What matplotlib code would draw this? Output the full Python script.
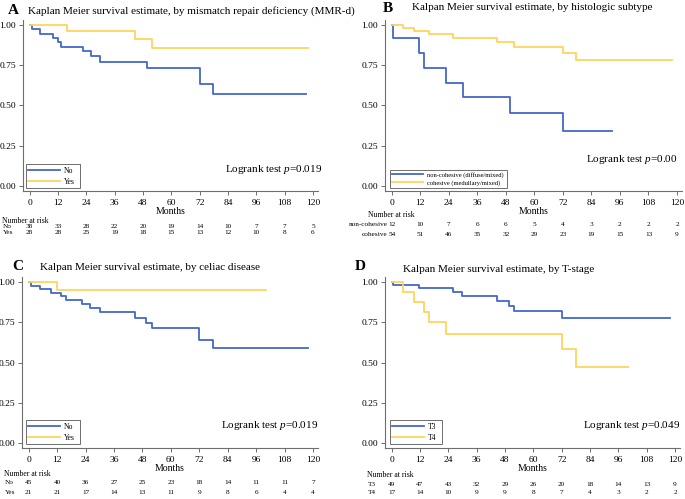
import matplotlib
matplotlib.use('Agg')
import matplotlib.pyplot as plt

plt.rcParams['font.family'] = ['Liberation Serif', 'DejaVu Serif']
plt.rcParams['mathtext.fontset'] = 'custom'
plt.rcParams['mathtext.rm'] = 'Liberation Serif'
plt.rcParams['mathtext.it'] = 'Liberation Serif:italic'

W, H = 685, 499
BLUE = '#4468c8'
GOLD = '#fed45e'
GREY = '#6e6e6e'

months = [0, 12, 24, 36, 48, 60, 72, 84, 96, 108, 120]

# A: mismatch repair deficiency
a_no_t = [0, 0.9, 4.6, 9.9, 12, 13.5, 22.5, 26, 30, 49.7, 72, 77.6, 117]
a_no_s = [1.0, 0.973, 0.947, 0.921, 0.895, 0.866, 0.840, 0.806, 0.770, 0.733, 0.631, 0.573, 0.573]
a_yes_t = [0, 15.9, 44.8, 52, 118]
a_yes_s = [1.0, 0.964, 0.914, 0.858, 0.858]
a_risk_no = [38, 33, 28, 22, 20, 19, 14, 10, 7, 7, 5]
a_risk_yes = [28, 28, 25, 19, 18, 15, 13, 12, 10, 8, 6]

# B: histologic subtype
b_nc_t = [0, 0.7, 11.6, 13.6, 22.7, 29.9, 49.8, 71.9, 92.6]
b_nc_s = [1.0, 0.917, 0.824, 0.732, 0.641, 0.550, 0.455, 0.342, 0.342]
b_c_t = [0, 4.9, 9.4, 15.9, 26, 44.5, 51.5, 71.9, 77.6, 117.9]
b_c_s = [1.0, 0.980, 0.961, 0.941, 0.920, 0.894, 0.865, 0.827, 0.783, 0.783]
b_risk_nc = [12, 10, 7, 6, 6, 5, 4, 3, 2, 2, 2]
b_risk_c = [54, 51, 46, 35, 32, 29, 23, 19, 15, 13, 9]

# C: celiac disease
c_no_t = [0, 0.8, 4.6, 9.6, 13.8, 15.9, 22.5, 26, 30, 44.8, 49.7, 52, 72, 77.6, 118]
c_no_s = [1.0, 0.978, 0.956, 0.933, 0.911, 0.886, 0.862, 0.837, 0.811, 0.778, 0.747, 0.715, 0.637, 0.592, 0.592]
c_yes_t = [0, 12.1, 100]
c_yes_s = [1.0, 0.952, 0.952]
c_risk_no = [45, 40, 36, 27, 25, 23, 18, 14, 11, 11, 7]
c_risk_yes = [21, 21, 17, 14, 13, 11, 9, 8, 6, 4, 4]

# D: T-stage
d_t3_t = [0, 0.7, 11.7, 25.8, 30, 44.8, 49.8, 51.8, 72.3, 117.9]
d_t3_s = [1.0, 0.980, 0.960, 0.940, 0.911, 0.879, 0.848, 0.817, 0.777, 0.777]
d_t4_t = [0, 4.7, 9.5, 13.7, 15.8, 22.9, 72.3, 78, 100.2]
d_t4_s = [1.0, 0.936, 0.874, 0.811, 0.750, 0.676, 0.584, 0.470, 0.470]
d_risk_t3 = [49, 47, 43, 32, 29, 26, 20, 18, 14, 13, 9]
d_risk_t4 = [17, 14, 10, 9, 9, 8, 7, 4, 3, 2, 2]

fig = plt.figure(figsize=(W / 100, H / 100), dpi=100)
RISK_FS = 5.2


def ftext(x, y, s, **kw):
    fig.text(x / W, 1 - y / H, s, **kw)


def panel(box, curves, labels, leg_box, leg_fs, handlelen, p_text, p_xy,
          letter, letter_xy, title, title_xy, risk, risk_names, risk_ys,
          name_x, name_ha, nar_xy):
    x0, y0, x1, y1 = box
    ax = fig.add_axes([x0 / W, 1 - y1 / H, (x1 - x0) / W, (y1 - y0) / H])
    for (t, s), col in zip(curves, [BLUE, GOLD]):
        ax.plot(t, s, drawstyle='steps-post', color=col, lw=1.3)
    ax.set_xlim(-2.8, 122.1)
    ax.set_ylim(-0.031, 1.031)
    ax.set_xticks(months)
    ax.set_yticks([0, 0.25, 0.5, 0.75, 1.0])
    ax.set_yticklabels(['0.00', '0.25', '0.50', '0.75', '1.00'])
    for sp in ['top', 'right']:
        ax.spines[sp].set_visible(False)
    for sp in ['left', 'bottom']:
        ax.spines[sp].set_color(GREY)
        ax.spines[sp].set_linewidth(0.8)
    ax.tick_params(length=3, width=0.7, color=GREY, labelsize=6.8, pad=2)
    ax.tick_params(axis='x', pad=2.5)
    ax.set_xlabel('Months', fontsize=7, labelpad=0.5)

    lx0, ly0, lx1, ly1 = leg_box
    ax.legend(labels, loc='lower left',
              bbox_to_anchor=(lx0 / W, 1 - ly1 / H, (lx1 - lx0) / W, (ly1 - ly0) / H),
              bbox_transform=fig.transFigure, mode='expand', fontsize=leg_fs,
              fancybox=False, edgecolor=GREY, framealpha=1, handlelength=handlelen,
              borderpad=0.3, labelspacing=0.4, handletextpad=0.5, borderaxespad=0)
    ax.get_legend().get_frame().set_linewidth(0.7)

    ftext(p_xy[0], p_xy[1], p_text, fontsize=8, ha='right', va='center')
    ftext(letter_xy[0], letter_xy[1], letter, fontsize=11, fontweight='bold',
          ha='left', va='center')
    ftext(title_xy[0], title_xy[1], title, fontsize=8, ha='left', va='center')

    ftext(nar_xy[0], nar_xy[1], 'Number at risk', fontsize=5.6, ha='left', va='center')
    for vals, name, yy in zip(risk, risk_names, risk_ys):
        ftext(name_x, yy, name, fontsize=RISK_FS, ha=name_ha, va='center')
        yax = (y1 - yy) / (y1 - y0)
        for m, v in zip(months, vals):
            ax.text(m, yax, str(v), fontsize=RISK_FS, ha='center', va='center',
                    transform=ax.get_xaxis_transform())
    return ax


panel((23, 20, 318, 191),
      [(a_no_t, a_no_s), (a_yes_t, a_yes_s)], ['No', 'Yes'],
      (26, 163, 80, 188), 5.5, 4.2,
      'Logrank test $\\it{p}$=0.019', (322, 169),
      'A', (8, 11), 'Kaplan Meier survival estimate, by mismatch repair deficiency (MMR-d)',
      (28, 11),
      [a_risk_no, a_risk_yes], ['No', 'Yes'], [226.5, 233], 3, 'left', (2, 221))

panel((385, 20, 682, 191),
      [(b_nc_t, b_nc_s), (b_c_t, b_c_s)],
      ['non-cohesive (diffuse/mixed)', 'cohesive (medullary/mixed)'],
      (390, 163, 507, 188), 4.7, 4.8,
      'Logrank test $\\it{p}$=0.00', (678, 159),
      'B', (383, 8), 'Kalpan Meier survival estimate, by histologic subtype', (412, 8),
      [b_risk_nc, b_risk_c], ['non-cohesive', 'cohesive'], [225, 234], 388, 'right',
      (368, 215))

panel((22, 277, 318, 448),
      [(c_no_t, c_no_s), (c_yes_t, c_yes_s)], ['No', 'Yes'],
      (26, 417, 80, 444), 5.5, 4.2,
      'Logrank test $\\it{p}$=0.019', (318, 425),
      'C', (12, 266), 'Kalpan Meier survival estimate, by celiac disease', (40, 267),
      [c_risk_no, c_risk_yes], ['No', 'Yes'], [483, 493], 5, 'left', (4, 474))

panel((385, 277, 680, 448),
      [(d_t3_t, d_t3_s), (d_t4_t, d_t4_s)], ['T3', 'T4'],
      (390, 419, 442, 444), 5.5, 4.2,
      'Logrank test $\\it{p}$=0.049', (680, 426),
      'D', (355, 266), 'Kalpan Meier survival estimate, by T-stage', (403, 270),
      [d_risk_t3, d_risk_t4], ['T3', 'T4'], [484, 493], 368, 'left', (367, 475))

fig.savefig('out.png', dpi=100, facecolor='white')
